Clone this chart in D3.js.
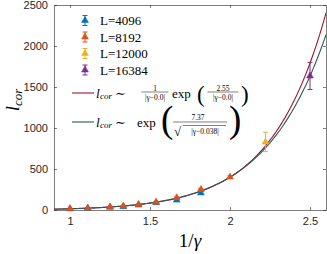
<!DOCTYPE html>
<html>
<head>
<meta charset="utf-8">
<script src="https://cdn.jsdelivr.net/npm/d3@7"></script>
<style>
  html, body { margin: 0; padding: 0; background: #fff; }
  svg { display: block; }
  .tick text { font-family: "Liberation Sans", Arial, sans-serif; font-size: 11px; fill: #262626; }
  .math { font-family: "Liberation Serif", "DejaVu Serif", serif; fill: #000; }
</style>
</head>
<body>
<svg id="chart" width="327" height="254"></svg>
<script>
/* l_cor vs 1/gamma: MATLAB-style boxed axes, four L series with error bars + two fits. */
(function () {
  "use strict";
  var W = 327, H = 254;
  var M = { left: 54, right: 1, top: 5, bottom: 44 };

  // series
  var xs4096 = [1, 1.111, 1.25, 1.333, 1.4286, 1.538, 1.667, 1.818];
  var ys4096 = [14, 21, 33, 40, 60, 88, 120, 208];
  var es4096 = [4, 4, 5, 5, 6, 7, 10, 14];

  var xs8192 = [1, 1.111, 1.25, 1.333, 1.4286, 1.538, 1.667, 1.818, 2];
  var ys8192 = [16, 23, 38, 49, 67, 96, 150, 250, 402];
  var es8192 = [4, 4, 5, 5, 6, 8, 10, 14, 16];

  var xs12000 = [2.222];
  var ys12000 = [830];
  var es12000 = [118];

  var xs16384 = [2.5];
  var ys16384 = [1635];
  var es16384 = [165];

  var seriesLabels = ["L=4096", "L=8192", "L=12000", "L=16384"];
  var seriesColors = ["#0072BD", "#D95319", "#EDB120", "#7E2F8E"];

  // fit parameters (from the legend formulas), amplitudes matched to the data
  var fitA = { amp: 1.22, gc: 0.0, b: 2.55 };     // (1/|g-gc|) exp(b/|g-gc|)
  var fitB = { amp: 0.00782, gc: 0.038, b: 7.37 }; // exp(b/sqrt|g-gc|)
  var fitColors = ["#A2142F", "#2F5A55"];

  var xTicks = [1, 1.5, 2, 2.5];
  var yTicks = [0, 500, 1000, 1500, 2000, 2500];
  var xDomain = [0.9, 2.6], yDomain = [0, 2500];

  var svg = d3.select("#chart");
  var x = d3.scaleLinear().domain(xDomain).range([M.left, W - M.right]);
  var y = d3.scaleLinear().domain(yDomain).range([H - M.bottom, M.top]);
  var axisCol = "#262626";

  function styleAxis(g) {
    g.selectAll("path").attr("stroke", axisCol).attr("stroke-width", 0.6);
    g.selectAll(".tick line").attr("stroke", axisCol).attr("stroke-width", 0.6);
  }
  svg.append("g").attr("transform", "translate(0," + y(0) + ")")
    .call(d3.axisBottom(x).tickValues(xTicks).tickSizeInner(-3).tickSizeOuter(0).tickPadding(7).tickFormat(d3.format("")))
    .call(styleAxis);
  svg.append("g").attr("transform", "translate(0," + y(2500) + ")")
    .call(d3.axisTop(x).tickValues(xTicks).tickSizeInner(-3).tickSizeOuter(0).tickFormat(""))
    .call(styleAxis);
  svg.append("g").attr("transform", "translate(" + x(xDomain[0]) + ",0)")
    .call(d3.axisLeft(y).tickValues(yTicks).tickSizeInner(-3).tickSizeOuter(0).tickPadding(6).tickFormat(d3.format("")))
    .call(styleAxis);
  svg.append("g").attr("transform", "translate(" + x(xDomain[1]) + ",0)")
    .call(d3.axisRight(y).tickValues(yTicks).tickSizeInner(-3).tickSizeOuter(0).tickFormat(""))
    .call(styleAxis);

  // fit curves
  var sampleX = d3.range(xDomain[0], xDomain[1] + 1e-9, 0.01);
  function fA(v) { var g = Math.abs(1 / v - fitA.gc); return fitA.amp / g * Math.exp(fitA.b / g); }
  function fB(v) { var g = Math.abs(1 / v - fitB.gc); return fitB.amp * Math.exp(fitB.b / Math.sqrt(g)); }
  var line = d3.line().x(function (d) { return x(d[0]); }).y(function (d) { return y(d[1]); });
  svg.append("clipPath").attr("id", "plotclip").append("rect")
    .attr("x", M.left).attr("y", M.top).attr("width", W - M.left - M.right).attr("height", H - M.top - M.bottom);
  var gPlot = svg.append("g").attr("clip-path", "url(#plotclip)");
  [fA, fB].forEach(function (f, i) {
    gPlot.append("path").datum(sampleX.map(function (v) { return [v, f(v)]; }))
      .attr("d", line).attr("fill", "none").attr("stroke", fitColors[i]).attr("stroke-width", 1.1);
  });

  // points with error bars
  var tri = d3.symbol().type(d3.symbolTriangle).size(20);
  var series = [
    [xs4096, ys4096, es4096], [xs8192, ys8192, es8192],
    [xs12000, ys12000, es12000], [xs16384, ys16384, es16384]
  ];
  series.forEach(function (s, si) {
    var c = seriesColors[si];
    var pts = s[0].map(function (v, i) { return { x: v, y: s[1][i], e: s[2][i] }; });
    var g = svg.append("g");
    var pe = g.selectAll("g.pt").data(pts).enter().append("g").attr("class", "pt");
    pe.append("line").attr("x1", function (d) { return x(d.x); }).attr("x2", function (d) { return x(d.x); })
      .attr("y1", function (d) { return y(d.y - d.e); }).attr("y2", function (d) { return y(d.y + d.e); })
      .attr("stroke", c).attr("stroke-width", 1);
    [-1, 1].forEach(function (sg) {
      pe.append("line").attr("x1", function (d) { return x(d.x) - 2.5; }).attr("x2", function (d) { return x(d.x) + 2.5; })
        .attr("y1", function (d) { return y(d.y + sg * d.e); }).attr("y2", function (d) { return y(d.y + sg * d.e); })
        .attr("stroke", c).attr("stroke-width", 1);
    });
    pe.append("path").attr("d", tri).attr("transform", function (d) { return "translate(" + x(d.x) + "," + y(d.y) + ")"; })
      .attr("fill", c).attr("stroke", c).attr("stroke-width", 0.6);
  });

  // legend
  var lg = svg.append("g");
  var rowY = [20.5, 37, 53.5, 70];
  seriesLabels.forEach(function (lab, i) {
    var c = seriesColors[i], cx = 85, cy = rowY[i];
    lg.append("line").attr("x1", cx).attr("x2", cx).attr("y1", cy - 5).attr("y2", cy + 5).attr("stroke", c);
    lg.append("line").attr("x1", cx - 2.5).attr("x2", cx + 2.5).attr("y1", cy - 5).attr("y2", cy - 5).attr("stroke", c);
    lg.append("line").attr("x1", cx - 2.5).attr("x2", cx + 2.5).attr("y1", cy + 5).attr("y2", cy + 5).attr("stroke", c);
    lg.append("path").attr("d", tri).attr("transform", "translate(" + cx + "," + cy + ")").attr("fill", c).attr("stroke", c).attr("stroke-width", 0.6);
    lg.append("text").attr("class", "math").attr("x", 100).attr("y", cy + 4.5).attr("font-size", 13).text(lab);
  });

  function txt(str, px, py, size, opts) {
    opts = opts || {};
    var t = lg.append("text").attr("class", "math").attr("x", px).attr("y", py).attr("font-size", size).text(str);
    if (opts.italic) t.attr("font-style", "italic");
    if (opts.anchor) t.attr("text-anchor", opts.anchor);
    return t;
  }
  function hline(x1, x2, yy) {
    lg.append("line").attr("x1", x1).attr("x2", x2).attr("y1", yy).attr("y2", yy).attr("stroke", "#000").attr("stroke-width", 0.5);
  }
  function lcor(px, base) {
    txt("l", px, base, 13.5, { italic: true });
    txt("cor", px + 4, base + 1.5, 9, { italic: true });
    txt("\u223C", px + 19, base, 13);
  }
  function frac(num, den, cx, bar, w) {
    txt(num, cx, bar - 1.5, 7.5, { anchor: "middle" });
    hline(cx - w / 2, cx + w / 2, bar);
    txt(den, cx, bar + 7.5, 7.5, { anchor: "middle" });
  }

  // red fit entry
  var r1 = 93;
  lg.append("line").attr("x1", 72).attr("x2", 94).attr("y1", r1).attr("y2", r1).attr("stroke", fitColors[0]).attr("stroke-width", 1.1);
  lcor(96, r1 + 4.5);
  frac("1", "|\u03B3\u22120.0|", 155, r1 - 1, 27);
  txt("exp", 172, r1 + 4.5, 13);
  txt("(", 197, r1 + 9, 23);
  frac("2.55", "|\u03B3\u22120.0|", 223, r1 - 1, 31);
  txt(")", 241, r1 + 9, 23);

  // green fit entry
  var r2 = 122;
  lg.append("line").attr("x1", 72).attr("x2", 94).attr("y1", r2).attr("y2", r2).attr("stroke", fitColors[1]).attr("stroke-width", 1.1);
  lcor(96, r2 + 4.5);
  txt("exp", 137, r2 + 4.5, 13);
  txt("(", 161, r2 + 10, 37);
  txt("7.37", 198, r2 - 2, 7.5, { anchor: "middle" });
  hline(173, 227, r2);
  txt("\u221A", 174, r2 + 14, 13);
  hline(183, 226, r2 + 3.5);
  txt("|\u03B3\u22120.038|", 205, r2 + 11.5, 7.5, { anchor: "middle" });
  txt(")", 229, r2 + 10, 37);

  // axis titles
  var yl = svg.append("text").attr("class", "math").attr("transform", "translate(19,100) rotate(-90)").attr("text-anchor", "middle");
  yl.append("tspan").attr("font-style", "italic").attr("font-size", 19).text("l");
  yl.append("tspan").attr("font-style", "italic").attr("font-size", 13).attr("dy", 3).text("cor");
  svg.append("text").attr("class", "math").attr("x", 190).attr("y", 247).attr("text-anchor", "middle").attr("font-size", 19)
    .html('1/<tspan font-style="italic">\u03B3</tspan>');
})();
</script>
</body>
</html>
